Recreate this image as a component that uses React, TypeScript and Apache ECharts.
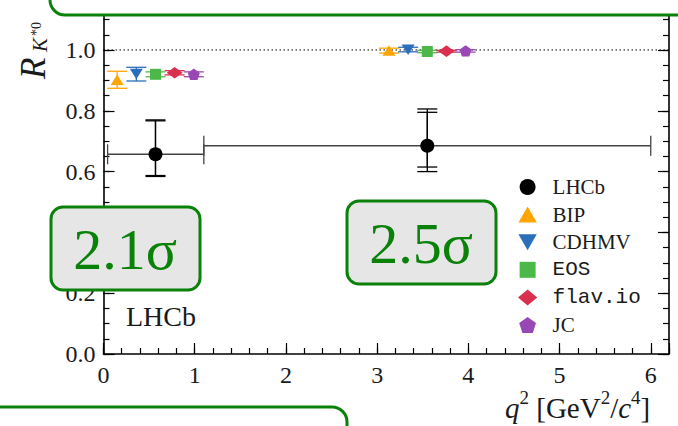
import React, { useEffect, useRef } from 'react';
import * as echarts from 'echarts';

// ---------- data ----------
const X_MIN = 0;
const X_MAX = 6.2;
const Y_MIN = 0;
const Y_MAX = 1.12;
const xMajor = 1;
const xMinor = 0.2;
const yMajor = 0.2;
const yMinor = 0.05;
const smRef = 1.0; // SM expectation (dotted line)
const yLabelsShown = ['0.0', '0.2', '0.6', '0.8', '1.0']; // 0.4 lies under the 2.1σ box

// LHCb measurement
const lhcbX = [0.57, 3.55];
const lhcbY = [0.657, 0.685];
const lhcbXLo = [0.045, 1.1];
const lhcbXHi = [1.1, 6.0];
const lhcbStatLo = [0.587, 0.615];
const lhcbStatHi = [0.767, 0.795];
const lhcbTotLo = [0.584, 0.600];
const lhcbTotHi = [0.770, 0.806];

// theory predictions (low bin, central bin)
const bipX = [0.15, 3.13];
const bipY = [0.902, 0.998];
const bipLo = [0.874, 0.990];
const bipHi = [0.930, 1.006];

const cdhmvX = [0.36, 3.34];
const cdhmvY = [0.921, 1.001];
const cdhmvLo = [0.898, 0.994];
const cdhmvHi = [0.943, 1.009];

const eosX = [0.57, 3.55];
const eosY = [0.920, 0.995];
const eosLo = [0.912, 0.991];
const eosHi = [0.928, 0.999];

const flavX = [0.78, 3.76];
const flavY = [0.925, 0.996];
const flavLo = [0.918, 0.993];
const flavHi = [0.932, 0.999];

const jcX = [0.99, 3.97];
const jcY = [0.920, 0.997];
const jcLo = [0.912, 0.993];
const jcHi = [0.928, 1.001];

const legendNames = ['LHCb', 'BIP', 'CDHMV', 'EOS', 'flav.io', 'JC'];
const monoLegend = ['EOS', 'flav.io'];

// ---------- styles ----------
const GREEN = '#0a820a';
const SERIF = '"Liberation Serif", "Times New Roman", serif';
const MONO = '"Liberation Mono", "DejaVu Sans Mono", monospace';
const CAP = 10;

const C_BIP = '#ffa500';
const C_CDHMV = '#2b6fba';
const C_EOS = '#4cb848';
const C_FLAV = '#d8304e';
const C_JC = '#9a47b6';

const SYM_UP = 'path://M1,0 L2,1.75 L0,1.75 Z';
const SYM_DOWN = 'path://M0,0 L2,0 L1,1.75 Z';
const SYM_SQ = 'path://M0,0 L1,0 L1,1 L0,1 Z';
const SYM_DIA = 'path://M0,1 L1.2,0 L2.4,1 L1.2,2 Z';
const SYM_PENT = 'path://M1,0 L1.951,0.691 L1.588,1.809 L0.412,1.809 L0.049,0.691 Z';

function vErr(id: string, color: string, xs: number[], lo: number[], hi: number[], lw = 1.3) {
  return {
    type: 'custom',
    name: id,
    z: 3,
    silent: true,
    clip: false,
    data: xs.map((x, i) => [x, lo[i], hi[i]]),
    encode: { x: 0, y: [1, 2] },
    renderItem: (_p: any, api: any) => {
      const a = api.coord([api.value(0), api.value(1)]);
      const b = api.coord([api.value(0), api.value(2)]);
      const st = { stroke: color, lineWidth: lw, fill: 'none' };
      return {
        type: 'group',
        children: [
          { type: 'line', shape: { x1: a[0], y1: a[1], x2: b[0], y2: b[1] }, style: st },
          { type: 'line', shape: { x1: a[0] - CAP, y1: a[1], x2: a[0] + CAP, y2: a[1] }, style: st },
          { type: 'line', shape: { x1: b[0] - CAP, y1: b[1], x2: b[0] + CAP, y2: b[1] }, style: st },
        ],
      };
    },
  };
}

function hErr(id: string, color: string, ys: number[], lo: number[], hi: number[], lw = 1.3) {
  return {
    type: 'custom',
    name: id,
    z: 2,
    silent: true,
    clip: false,
    data: ys.map((y, i) => [lo[i], hi[i], y]),
    encode: { x: [0, 1], y: 2 },
    renderItem: (_p: any, api: any) => {
      const a = api.coord([api.value(0), api.value(2)]);
      const b = api.coord([api.value(1), api.value(2)]);
      const st = { stroke: color, lineWidth: lw, fill: 'none' };
      return {
        type: 'group',
        children: [
          { type: 'line', shape: { x1: a[0], y1: a[1], x2: b[0], y2: b[1] }, style: st },
          { type: 'line', shape: { x1: a[0], y1: a[1] - CAP, x2: a[0], y2: a[1] + CAP }, style: st },
          { type: 'line', shape: { x1: b[0], y1: b[1] - CAP, x2: b[0], y2: b[1] + CAP }, style: st },
        ],
      };
    },
  };
}

function pts(name: string, color: string, xs: number[], ys: number[], symbol: string, size: any) {
  return {
    type: 'scatter',
    name,
    z: 5,
    symbol,
    symbolSize: size,
    symbolKeepAspect: true,
    itemStyle: { color, opacity: 1 },
    data: xs.map((x, i) => [x, ys[i]]),
  };
}

const majorTick = { show: true, inside: true, length: 11, lineStyle: { color: '#000', width: 1.2 } };
const minorTick = { show: true, inside: true, length: 6, lineStyle: { color: '#000', width: 1.2 } };
const axisLine = { show: true, lineStyle: { color: '#000', width: 1.6 } };
const labelStyle = { fontFamily: SERIF, fontSize: 24, color: '#1a1a1a' };

export default function App() {
  const ref = useRef<HTMLDivElement>(null);
  useEffect(() => {
    if (!ref.current) return;
    const chart = echarts.init(ref.current, undefined, { renderer: 'svg' });
    const xBase = { type: 'value', min: X_MIN, max: X_MAX, splitLine: { show: false } };
    const yBase = { type: 'value', min: Y_MIN, max: Y_MAX, splitLine: { show: false } };
    const option: any = {
      animation: false,
      backgroundColor: '#fff',
      grid: { left: 103.5, right: 9, top: 13.5, bottom: 72, containLabel: false },
      xAxis: [
        {
          ...xBase, position: 'bottom', interval: xMajor, axisLine, axisTick: majorTick,
          axisLabel: {
            ...labelStyle, margin: 9,
            formatter: (v: number) => (Math.abs(v - Math.round(v)) < 1e-6 ? String(Math.round(v)) : ''),
          },
        },
        { ...xBase, position: 'bottom', interval: xMinor, axisLine: { show: false }, axisTick: minorTick, axisLabel: { show: false } },
      ],
      yAxis: [
        {
          ...yBase, position: 'left', interval: yMajor, axisLine, axisTick: majorTick,
          axisLabel: {
            ...labelStyle, margin: 8,
            formatter: (v: number) => {
              const s = v.toFixed(1);
              return Math.abs(v * 5 - Math.round(v * 5)) < 1e-6 && yLabelsShown.includes(s) ? s : '';
            },
          },
        },
        { ...yBase, position: 'left', interval: yMinor, axisLine: { show: false }, axisTick: minorTick, axisLabel: { show: false } },
        { ...yBase, position: 'right', interval: yMajor, axisLine, axisTick: majorTick, axisLabel: { show: false } },
        { ...yBase, position: 'right', interval: yMinor, axisLine: { show: false }, axisTick: minorTick, axisLabel: { show: false } },
      ],
      legend: {
        orient: 'vertical',
        left: 513,
        top: 171.5,
        itemWidth: 40,
        itemHeight: 16,
        itemGap: 6.6,
        selectedMode: false,
        symbolKeepAspect: true,
        formatter: (name: string) => (monoLegend.includes(name) ? `{m|${name}}` : `{s|${name}}`),
        textStyle: {
          fontFamily: 'Liberation Serif',
          fontSize: 21,
          color: '#1a1a1a',
          lineHeight: 20,
          rich: {
            s: { fontFamily: 'Liberation Serif', fontSize: 21, lineHeight: 20, color: '#1a1a1a' },
            m: { fontFamily: 'Liberation Mono', fontSize: 21, lineHeight: 20, color: '#1a1a1a' },
          },
        },
        data: legendNames,
      },
      series: [
        {
          type: 'line',
          name: 'SM',
          z: 1,
          silent: true,
          symbol: 'none',
          data: [[X_MIN, smRef], [X_MAX, smRef]],
          lineStyle: { color: '#000', width: 1, type: [1.5, 2.5] },
        },
        hErr('LHCb-x', '#444', lhcbY, lhcbXLo, lhcbXHi, 1.3),
        vErr('LHCb-tot', '#000', lhcbX, lhcbTotLo, lhcbTotHi, 1.3),
        vErr('LHCb-stat', '#000', lhcbX, lhcbStatLo, lhcbStatHi, 1.3),
        vErr('BIP-err', C_BIP, bipX, bipLo, bipHi),
        vErr('CDHMV-err', C_CDHMV, cdhmvX, cdhmvLo, cdhmvHi),
        vErr('EOS-err', C_EOS, eosX, eosLo, eosHi),
        vErr('flav-err', C_FLAV, flavX, flavLo, flavHi),
        vErr('JC-err', C_JC, jcX, jcLo, jcHi),
        pts('LHCb', '#000', lhcbX, lhcbY, 'circle', 14),
        pts('BIP', C_BIP, bipX, bipY, SYM_UP, [13, 12]),
        pts('CDHMV', C_CDHMV, cdhmvX, cdhmvY, SYM_DOWN, [13, 12]),
        pts('EOS', C_EOS, eosX, eosY, SYM_SQ, [11, 11]),
        pts('flav.io', C_FLAV, flavX, flavY, SYM_DIA, [16, 14]),
        pts('JC', C_JC, jcX, jcY, SYM_PENT, [12, 12]),
      ],
      graphic: [
        // y-axis title R_{K*0}
        {
          type: 'group', x: 46, y: 79, rotation: Math.PI / 2, z: 50,
          children: [
            { type: 'text', x: 0, y: -12.5, style: { text: 'R', fontFamily: SERIF, fontStyle: 'italic', fontSize: 35, fill: '#1a1a1a', verticalAlign: 'middle', align: 'left' } },
            { type: 'text', x: 27, y: -6, style: { text: 'K', fontFamily: SERIF, fontStyle: 'italic', fontSize: 21, fill: '#1a1a1a', verticalAlign: 'middle', align: 'left' } },
            { type: 'text', x: 43, y: -10, style: { text: '*0', fontFamily: SERIF, fontSize: 14, fill: '#1a1a1a', verticalAlign: 'middle', align: 'left' } },
          ],
        },
        // x-axis title
        {
          type: 'text', x: 505, y: 422, z: 50,
          style: {
            text: '{i|q}{s|2}{n| [GeV}{s|2}{n|/}{i|c}{s|4}{n|]}',
            verticalAlign: 'bottom', align: 'left',
            rich: {
              n: { fontFamily: SERIF, fontSize: 29, lineHeight: 34, verticalAlign: 'bottom', fill: '#1a1a1a' },
              i: { fontFamily: SERIF, fontStyle: 'italic', fontSize: 29, lineHeight: 34, verticalAlign: 'bottom', fill: '#1a1a1a' },
              s: { fontFamily: SERIF, fontSize: 19, lineHeight: 20, verticalAlign: 'top', fill: '#1a1a1a' },
            },
          },
        },
        // LHCb label
        { type: 'text', x: 126, y: 316, z: 50, style: { text: 'LHCb', fontFamily: SERIF, fontSize: 28, fill: '#1a1a1a', verticalAlign: 'middle', align: 'left' } },
        // overlay boxes
        { type: 'rect', z: 100, shape: { x: 50, y: -40, width: 700, height: 55, r: 15 }, style: { fill: '#fff', stroke: GREEN, lineWidth: 3 } },
        { type: 'rect', z: 100, shape: { x: -40, y: 407, width: 387, height: 60, r: 15 }, style: { fill: '#fff', stroke: GREEN, lineWidth: 3 } },
        { type: 'rect', z: 100, shape: { x: 51, y: 207, width: 149, height: 83, r: 12 }, style: { fill: '#e6e6e6', stroke: GREEN, lineWidth: 3 } },
        { type: 'text', z: 101, x: 125, y: 249, style: { text: '2.1σ', fontFamily: SERIF, fontSize: 58, fill: GREEN, align: 'center', verticalAlign: 'middle' } },
        { type: 'rect', z: 100, shape: { x: 347, y: 201, width: 149, height: 83, r: 12 }, style: { fill: '#e6e6e6', stroke: GREEN, lineWidth: 3 } },
        { type: 'text', z: 101, x: 421, y: 243, style: { text: '2.5σ', fontFamily: SERIF, fontSize: 58, fill: GREEN, align: 'center', verticalAlign: 'middle' } },
      ],
    };
    chart.setOption(option);
    return () => chart.dispose();
  }, []);
  return <div ref={ref} style={{ position: 'fixed', left: 0, top: 0, width: 678, height: 426, background: '#fff' }} />;
}
